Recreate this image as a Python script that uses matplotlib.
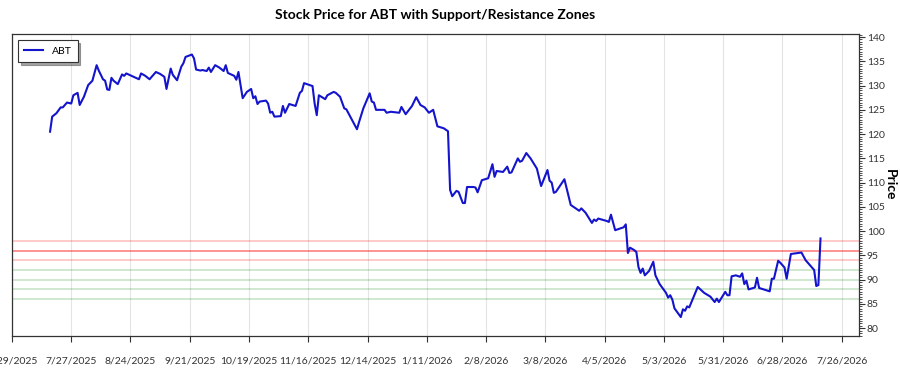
import matplotlib
matplotlib.use("Agg")
import matplotlib.pyplot as plt
from matplotlib.ticker import MultipleLocator
import pandas as pd

plt.rcParams['font.family'] = ['Lato', 'DejaVu Sans']

# closing prices
dates = [
    '2025-07-17', '2025-07-18', '2025-07-20', '2025-07-22', '2025-07-23', '2025-07-25', '2025-07-27', '2025-07-28', '2025-07-30', '2025-07-31',
    '2025-08-02', '2025-08-04', '2025-08-06', '2025-08-08', '2025-08-09', '2025-08-11', '2025-08-12', '2025-08-13', '2025-08-14', '2025-08-15',
    '2025-08-16', '2025-08-18', '2025-08-20', '2025-08-21', '2025-08-22', '2025-08-24', '2025-08-27', '2025-08-28', '2025-08-29', '2025-08-31',
    '2025-09-02', '2025-09-05', '2025-09-07', '2025-09-09', '2025-09-10', '2025-09-12', '2025-09-13', '2025-09-15', '2025-09-17', '2025-09-18',
    '2025-09-19', '2025-09-22', '2025-09-23', '2025-09-24', '2025-09-26', '2025-09-27', '2025-09-29', '2025-09-30',
    '2025-10-01', '2025-10-03', '2025-10-05', '2025-10-07', '2025-10-08', '2025-10-09', '2025-10-12', '2025-10-13', '2025-10-14', '2025-10-16',
    '2025-10-18', '2025-10-20', '2025-10-21', '2025-10-22', '2025-10-23', '2025-10-24', '2025-10-27', '2025-10-28', '2025-10-29', '2025-10-30', '2025-10-31',
    '2025-11-03', '2025-11-04', '2025-11-05', '2025-11-07', '2025-11-10', '2025-11-12', '2025-11-13', '2025-11-14', '2025-11-16', '2025-11-18',
    '2025-11-19', '2025-11-20', '2025-11-21', '2025-11-24', '2025-11-25', '2025-11-28', '2025-11-29',
    '2025-12-01', '2025-12-03', '2025-12-04', '2025-12-09', '2025-12-10', '2025-12-12', '2025-12-15', '2025-12-16', '2025-12-17', '2025-12-18',
    '2025-12-22', '2025-12-23', '2025-12-25', '2025-12-29', '2025-12-30',
    '2026-01-01', '2026-01-04', '2026-01-06', '2026-01-08', '2026-01-10', '2026-01-12', '2026-01-14', '2026-01-16', '2026-01-19', '2026-01-21',
    '2026-01-22', '2026-01-23', '2026-01-25', '2026-01-26', '2026-01-28', '2026-01-29', '2026-01-30',
    '2026-02-02', '2026-02-03', '2026-02-04', '2026-02-06', '2026-02-09', '2026-02-11', '2026-02-12', '2026-02-13', '2026-02-16', '2026-02-18',
    '2026-02-19', '2026-02-20', '2026-02-23', '2026-02-24', '2026-02-25', '2026-02-27',
    '2026-03-01', '2026-03-04', '2026-03-06', '2026-03-09', '2026-03-10', '2026-03-11', '2026-03-12', '2026-03-13', '2026-03-17', '2026-03-20',
    '2026-03-23', '2026-03-24', '2026-03-25', '2026-03-27', '2026-03-30', '2026-03-31',
    '2026-04-01', '2026-04-02', '2026-04-06', '2026-04-07', '2026-04-08', '2026-04-10', '2026-04-14', '2026-04-15', '2026-04-16', '2026-04-17',
    '2026-04-19', '2026-04-20', '2026-04-21', '2026-04-22', '2026-04-23', '2026-04-24', '2026-04-26', '2026-04-28', '2026-04-29',
    '2026-05-01', '2026-05-04', '2026-05-05', '2026-05-06', '2026-05-07', '2026-05-08', '2026-05-11', '2026-05-12', '2026-05-13', '2026-05-14',
    '2026-05-15', '2026-05-19', '2026-05-22', '2026-05-25', '2026-05-27', '2026-05-28', '2026-05-29',
    '2026-06-01', '2026-06-02', '2026-06-03', '2026-06-04', '2026-06-06', '2026-06-08', '2026-06-09', '2026-06-10', '2026-06-11', '2026-06-12',
    '2026-06-15', '2026-06-16', '2026-06-17', '2026-06-22', '2026-06-23', '2026-06-24', '2026-06-26', '2026-06-27', '2026-06-29', '2026-06-30',
    '2026-07-02', '2026-07-07', '2026-07-09', '2026-07-13', '2026-07-14', '2026-07-15', '2026-07-16',
]
prices = [
    120.5, 123.6, 124.3, 125.5, 125.5, 126.5, 126.3, 128.0, 128.5, 126.0,
    127.7, 130.1, 131.0, 134.2, 133.1, 131.3, 131.0, 129.2, 129.1, 131.6,
    131.0, 130.3, 132.3, 132.0, 132.5, 132.1, 131.5, 131.3, 132.5, 132.0,
    131.3, 132.8, 132.4, 131.8, 129.3, 133.5, 132.2, 131.1, 133.9, 134.6,
    135.9, 136.4, 135.6, 133.3, 133.1, 133.2, 133.0, 133.7,
    132.8, 134.2, 133.7, 133.0, 134.2, 132.6, 132.0, 131.2, 132.8, 127.4,
    128.7, 129.3, 127.4, 127.8, 126.2, 126.7, 126.9, 126.3, 124.4, 124.6, 123.6,
    123.7, 125.8, 124.4, 126.2, 125.8, 128.5, 128.9, 130.5, 130.2, 129.9,
    126.3, 123.9, 128.0, 127.2, 128.0, 128.7, 128.5,
    127.7, 125.3, 125.1, 121.0, 122.5, 125.3, 128.4, 126.7, 126.5, 125.0,
    125.0, 124.4, 124.6, 124.4, 125.6,
    124.1, 125.8, 127.6, 126.0, 125.5, 124.4, 125.0, 121.6, 121.2, 120.6,
    108.5, 107.2, 108.3, 108.1, 105.8, 105.8, 109.1,
    109.1, 109.0, 108.0, 110.5, 110.9, 113.8, 111.2, 112.4, 112.2, 113.3,
    112.0, 112.1, 115.0, 114.3, 114.5, 116.1,
    115.0, 112.9, 109.3, 112.6, 110.4, 110.0, 107.9, 108.1, 110.7, 105.4,
    104.5, 104.2, 104.7, 103.8, 101.7, 102.4,
    102.1, 102.6, 102.1, 101.9, 103.4, 100.2, 100.8, 101.4, 95.5, 96.6,
    96.1, 95.7, 92.6, 91.4, 92.3, 90.9, 91.8, 93.7, 90.9,
    89.1, 87.3, 86.3, 86.8, 85.9, 84.1, 82.3, 83.9, 83.6, 84.5,
    84.3, 88.5, 87.3, 86.5, 85.4, 86.1, 85.4,
    87.5, 86.8, 86.8, 90.7, 90.9, 90.6, 91.3, 89.1, 89.8, 88.0,
    88.4, 90.4, 88.3, 87.6, 90.2, 90.2, 93.9, 93.5, 92.5, 90.2,
    95.3, 95.6, 94.0, 92.0, 88.7, 88.9, 98.5,
]

resistance_levels = [98, 96, 94]
resistance_alpha = [0.25, 0.5, 0.25]
support_levels = [92, 90, 88, 86]

tick_dates = pd.date_range('2025-06-29', '2026-07-26', freq='28D')
tick_labels = [f"{d.month}/{d.day}/{d.year}" for d in tick_dates]

dates = pd.to_datetime(dates)

fig, ax = plt.subplots(figsize=(9, 3.75), dpi=100)
fig.subplots_adjust(left=0.0133, right=0.954, top=0.909, bottom=0.104)

for lvl, a in zip(resistance_levels, resistance_alpha):
    ax.axhline(lvl, color='red', alpha=a, lw=1.2, zorder=1)
for lvl in support_levels:
    ax.axhline(lvl, color='green', alpha=0.22, lw=1.2, zorder=1)

ax.plot(dates, prices, color='#1414cc', lw=1.5, label='ABT', zorder=3)

ax.set_xticks(tick_dates)
ax.set_xticklabels(tick_labels)
ax.set_xlim(pd.Timestamp('2025-06-29'), pd.Timestamp('2026-08-03'))
ax.set_ylim(78.4, 140.6)

ax.yaxis.tick_right()
ax.yaxis.set_label_position('right')
ax.yaxis.set_major_locator(MultipleLocator(5))
ax.yaxis.set_minor_locator(MultipleLocator(0.5))
ax.tick_params(axis='y', which='major', length=4, labelsize=7.5, colors='#333333', pad=2)
ax.tick_params(axis='y', which='minor', length=2, color='#333333')
ax.tick_params(axis='x', length=4, labelsize=7.5, colors='#333333', pad=11)
ax.set_ylabel('Price', fontsize=10, fontweight='bold', rotation=270, labelpad=8)

ax.grid(axis='x', color='#e4e4e4', lw=0.8)
ax.set_axisbelow(True)
for sp in ax.spines.values():
    sp.set_color('#333333')
    sp.set_linewidth(0.9)

ax.set_title('Stock Price for ABT with Support/Resistance Zones', fontsize=10,
             fontweight='bold', pad=11)

leg = ax.legend(loc='upper left', fontsize=7.5, fancybox=False, shadow=True,
                edgecolor='#333333', framealpha=1, handlelength=1.8,
                borderaxespad=0.6, borderpad=0.6)
leg.get_frame().set_linewidth(0.8)

fig.savefig('out.png', dpi=100)
